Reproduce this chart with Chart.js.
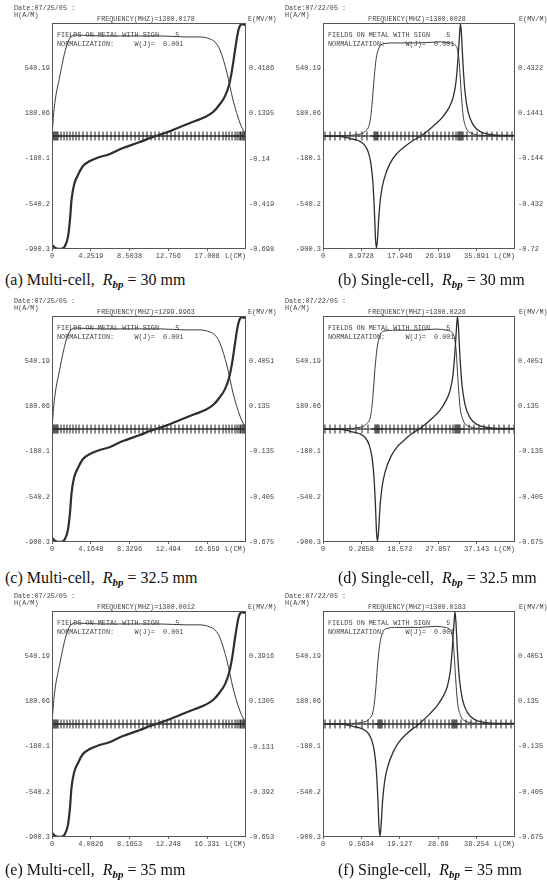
<!DOCTYPE html>
<html>
<head>
<meta charset="utf-8">
<title>Fields on metal</title>
<script src="https://cdn.jsdelivr.net/npm/chart.js@4.4.0/dist/chart.umd.min.js"></script>
<style>
    html, body { margin: 0; padding: 0; background: #fff; }
    body { width: 547px; height: 884px; position: relative; overflow: hidden; }
    .panel { position: absolute; width: 276px; height: 261px; }
    .panel canvas { position: absolute; left: 0; top: 0; }
    .plot-text {
        position: absolute;
        font-family: 'Liberation Mono', 'DejaVu Sans Mono', monospace;
        font-size: 6.8px;
        line-height: 8px;
        color: #444;
        white-space: pre;
    }
    .caption {
        position: absolute;
        font-family: 'Liberation Serif', 'DejaVu Serif', serif;
        font-size: 16px;
        line-height: 17px;
        color: #111;
        white-space: pre;
    }
    .caption sub { font-size: 11px; font-style: italic; font-weight: bold; vertical-align: -3px; }
</style>
</head>
<body>
<script>
// Left axis H(A/M), same in every plot
const hTicks = [-900.3, -540.2, -180.1, 180.06, 540.19];

// L(CM) axis ticks per plot
const xTicksA = [0, 4.2519, 8.5038, 12.756, 17.008];
const xTicksB = [0, 8.9728, 17.946, 26.919, 35.891];
const xTicksC = [0, 4.1648, 8.3296, 12.494, 16.659];
const xTicksD = [0, 9.2858, 18.572, 27.857, 37.143];
const xTicksE = [0, 4.0826, 8.1653, 12.248, 16.331];
const xTicksF = [0, 9.5634, 19.127, 28.69, 38.254];

// Right axis E(MV/M) ticks per plot
const eTicksA = [-0.698, -0.419, -0.14, 0.1395, 0.4186];
const eTicksB = [-0.72, -0.432, -0.144, 0.1441, 0.4322];
const eTicksC = [-0.675, -0.405, -0.135, 0.135, 0.4051];
const eTicksD = [-0.675, -0.405, -0.135, 0.135, 0.4051];
const eTicksE = [-0.653, -0.392, -0.131, 0.1305, 0.3916];
const eTicksF = [-0.675, -0.405, -0.135, 0.135, 0.4051];

// H field along the metal, [L, H]
const hFieldA = [[0,-868],[0.44,-895],[0.99,-900],[1.42,-876],[1.75,-804],[1.97,-669],[2.14,-509],[2.41,-390],[2.85,-310],[3.40,-239],[4.16,-199],[4.93,-175],[6.36,-143],[7.78,-96],[9.64,-48],[10.74,-16],[12.38,24],[14.03,72],[15.67,119],[16.77,151],[17.65,191],[18.41,255],[18.96,318],[19.40,406],[19.73,525],[20.06,685],[20.28,788],[20.49,860],[20.82,892],[21.15,884]];
const hFieldC = [[0,-868],[0.43,-895],[0.97,-900],[1.39,-876],[1.71,-804],[1.93,-669],[2.10,-509],[2.36,-390],[2.79,-310],[3.33,-239],[4.07,-199],[4.83,-175],[6.23,-143],[7.62,-96],[9.44,-48],[10.52,-16],[12.13,24],[13.74,72],[15.35,119],[16.43,151],[17.29,191],[18.03,255],[18.57,318],[19.00,406],[19.33,525],[19.65,685],[19.86,788],[20.07,860],[20.39,892],[20.72,884]];
const hFieldE = [[0,-868],[0.42,-895],[0.95,-900],[1.36,-876],[1.68,-804],[1.89,-669],[2.05,-509],[2.31,-390],[2.74,-310],[3.26,-239],[3.99,-199],[4.73,-175],[6.11,-143],[7.47,-96],[9.26,-48],[10.31,-16],[11.89,24],[13.47,72],[15.05,119],[16.10,151],[16.95,191],[17.68,255],[18.21,318],[18.63,406],[18.95,525],[19.26,685],[19.47,788],[19.67,860],[19.99,892],[20.31,884]];
const hFieldB = [[0,0],[3.97,-2],[6.31,-20],[8.18,-36],[9.58,-67],[10.52,-123],[11.22,-226],[11.69,-385],[12.04,-622],[12.27,-821],[12.50,-892],[12.74,-821],[13.09,-622],[13.55,-464],[14.26,-345],[15.66,-218],[17.29,-139],[19.16,-83],[21.03,-36],[22.67,-4],[24.30,36],[26.17,91],[28.04,155],[29.45,226],[30.38,305],[31.08,432],[31.55,622],[31.90,805],[32.13,895],[32.37,805],[32.72,567],[33.18,353],[33.89,194],[35.06,91],[36.69,36],[39.03,12],[42.53,4],[44.86,4]];
const hFieldD = [[0,0],[4.35,-2],[6.77,-20],[8.71,-36],[10.16,-67],[11.12,-123],[11.85,-226],[12.33,-385],[12.70,-622],[12.94,-821],[13.18,-892],[13.42,-821],[13.78,-622],[14.27,-464],[14.99,-345],[16.44,-218],[18.02,-139],[19.83,-83],[21.52,-36],[23.09,-4],[24.67,36],[26.60,91],[28.41,155],[29.74,226],[30.71,305],[31.44,432],[31.92,622],[32.28,805],[32.52,895],[32.77,805],[33.13,567],[33.61,353],[34.34,194],[35.55,91],[37.24,36],[39.66,12],[43.53,4],[46.43,4]];
const hFieldF = [[0,0],[5.11,-2],[7.60,-20],[9.59,-36],[11.08,-67],[12.08,-123],[12.83,-226],[13.32,-385],[13.70,-622],[13.95,-821],[14.20,-892],[14.44,-821],[14.82,-622],[15.32,-464],[16.06,-345],[17.56,-218],[19.05,-139],[20.67,-83],[22.41,-36],[23.78,-4],[25.15,36],[26.90,91],[28.64,155],[30.01,226],[31.01,305],[31.75,432],[32.25,622],[32.63,805],[32.87,895],[33.12,805],[33.50,567],[34.00,353],[34.74,194],[35.99,91],[37.73,36],[40.22,12],[44.08,4],[47.82,4]];

// E field along the metal, [L, E]
const eFieldA = [[0,0],[0.22,0.161],[0.88,0.377],[1.53,0.544],[1.97,0.605],[2.52,0.624],[5.26,0.618],[8.55,0.618],[11.84,0.618],[14.58,0.612],[16.22,0.612],[17.32,0.599],[17.87,0.580],[18.41,0.531],[19.18,0.389],[19.84,0.222],[20.60,0.080],[21.26,0]];
const eFieldC = [[0,0],[0.22,0.156],[0.86,0.365],[1.50,0.526],[1.93,0.585],[2.47,0.603],[5.15,0.598],[8.37,0.598],[11.60,0.598],[14.28,0.592],[15.88,0.592],[16.96,0.579],[17.50,0.561],[18.03,0.513],[18.79,0.376],[19.43,0.215],[20.18,0.077],[20.82,0]];
const eFieldE = [[0,0],[0.21,0.151],[0.84,0.353],[1.47,0.509],[1.89,0.566],[2.42,0.584],[5.05,0.578],[8.21,0.578],[11.37,0.578],[14.00,0.573],[15.57,0.573],[16.63,0.560],[17.16,0.543],[17.68,0.497],[18.42,0.364],[19.05,0.208],[19.78,0.075],[20.41,0]];
const eFieldB = [[0,0],[5.14,0.003],[8.18,0.010],[9.81,0.029],[10.98,0.092],[11.45,0.200],[11.92,0.358],[12.38,0.485],[13.09,0.561],[14.02,0.587],[16.83,0.593],[22.67,0.593],[27.34,0.600],[29.68,0.593],[31.08,0.574],[31.78,0.485],[32.25,0.295],[32.72,0.136],[33.42,0.054],[34.82,0.016],[37.86,0.003],[44.86,0]];
const eFieldD = [[0,0],[5.56,0.003],[8.71,0.009],[10.40,0.028],[11.61,0.090],[12.09,0.200],[12.57,0.360],[13.06,0.480],[13.78,0.560],[14.75,0.585],[17.53,0.590],[23.09,0.590],[27.33,0.597],[29.99,0.590],[31.44,0.570],[32.16,0.480],[32.65,0.290],[33.13,0.135],[33.86,0.054],[35.31,0.016],[38.45,0.003],[46.43,0]];
const eFieldF = [[0,0],[6.35,0.003],[9.59,0.009],[11.33,0.027],[12.58,0.088],[13.07,0.190],[13.57,0.345],[14.07,0.465],[14.82,0.545],[15.81,0.570],[18.43,0.577],[23.78,0.577],[28.02,0.583],[30.39,0.577],[31.75,0.560],[32.50,0.470],[33.00,0.285],[33.50,0.130],[34.24,0.052],[35.74,0.015],[38.98,0.003],[47.82,0]];

// Mesh points on the boundary (L positions)
const meshA = [0,0.11,0.22,0.33,0.44,0.55,0.66,0.99,1.32,1.64,1.97,2.30,2.63,2.96,3.40,3.84,4.27,4.71,5.15,5.59,6.03,6.47,6.90,7.34,7.78,8.22,8.66,9.10,9.54,9.97,10.41,10.85,11.29,11.73,12.17,12.60,13.04,13.48,13.92,14.36,14.80,15.23,15.67,16.11,16.55,16.99,17.43,17.86,18.30,18.74,19.07,19.40,19.73,20.06,20.28,20.50,20.66,20.82,20.93,21.04,21.15,21.26];
const meshC = [0,0.11,0.21,0.32,0.43,0.54,0.64,0.97,1.29,1.61,1.93,2.25,2.58,2.90,3.33,3.76,4.19,4.62,5.05,5.47,5.90,6.33,6.76,7.19,7.62,8.05,8.48,8.91,9.34,9.77,10.20,10.63,11.06,11.49,11.91,12.34,12.77,13.20,13.63,14.06,14.49,14.92,15.35,15.78,16.21,16.64,17.07,17.50,17.93,18.36,18.68,19.00,19.32,19.64,19.86,20.07,20.23,20.39,20.50,20.61,20.72,20.82];
const meshE = [0,0.11,0.21,0.32,0.42,0.53,0.63,0.95,1.26,1.58,1.89,2.21,2.53,2.84,3.26,3.68,4.10,4.52,4.95,5.37,5.79,6.21,6.63,7.05,7.47,7.89,8.31,8.73,9.15,9.58,10.00,10.42,10.84,11.26,11.68,12.10,12.52,12.94,13.36,13.78,14.20,14.62,15.05,15.47,15.89,16.31,16.73,17.15,17.57,17.99,18.31,18.62,18.94,19.26,19.47,19.68,19.84,19.99,20.10,20.20,20.31,20.41];
const meshB = [0.47,1.64,2.80,3.97,5.14,6.31,7.71,9.11,10.28,11.92,12.15,12.38,12.62,12.85,13.55,14.49,15.42,16.36,17.29,18.23,19.16,20.10,21.03,21.97,22.90,23.83,24.77,25.70,26.64,27.57,28.51,29.45,30.38,31.08,31.55,31.78,32.01,32.25,32.48,32.71,33.65,34.82,35.99,37.15,38.32,39.49,40.66,41.83,43.00,44.16];
const meshD = [0.48,1.69,2.90,4.11,5.32,6.53,7.98,9.43,10.88,12.57,12.82,13.06,13.30,13.54,14.27,15.23,16.20,17.17,18.14,19.10,20.07,21.04,22.01,22.97,23.94,24.91,25.87,26.84,27.81,28.78,29.74,30.71,31.44,31.92,32.16,32.40,32.65,32.89,33.13,34.10,35.31,36.51,37.72,38.93,40.14,41.35,42.56,43.77,44.98,46.19];
const meshF = [0.50,1.74,2.99,4.23,5.48,6.72,8.22,9.71,11.21,12.45,13.70,13.95,14.20,14.44,14.69,15.44,16.44,17.43,18.43,19.43,20.42,21.42,22.41,23.41,24.41,25.40,26.40,27.40,28.39,29.39,30.38,31.38,32.13,32.38,32.63,32.87,33.12,33.37,34.37,35.61,36.86,38.10,39.35,40.60,41.84,43.09,44.33,45.58,46.82];

// Plot layout: two columns, three rows
const panels = [
    { key: 'a', left: 0,   top: 0,   rightWidth: 30, date: '07/25/05', freq: '1300.0178', xTicks: xTicksA, xMax: 21.2595, eTicks: eTicksA, eMax: 0.698, h: hFieldA, e: eFieldA, mesh: meshA, multi: true,  caption: 'Multi-cell',  rbp: '30' },
    { key: 'b', left: 271, top: 0,   rightWidth: 32, date: '07/22/05', freq: '1300.0028', xTicks: xTicksB, xMax: 44.864,  eTicks: eTicksB, eMax: 0.72,  h: hFieldB, e: eFieldB, mesh: meshB, multi: false, caption: 'Single-cell', rbp: '30' },
    { key: 'c', left: 0,   top: 293, rightWidth: 30, date: '07/25/05', freq: '1299.9963', xTicks: xTicksC, xMax: 20.824,  eTicks: eTicksC, eMax: 0.675, h: hFieldC, e: eFieldC, mesh: meshC, multi: true,  caption: 'Multi-cell',  rbp: '32.5' },
    { key: 'd', left: 271, top: 293, rightWidth: 32, date: '07/22/05', freq: '1300.0226', xTicks: xTicksD, xMax: 46.429,  eTicks: eTicksD, eMax: 0.675, h: hFieldD, e: eFieldD, mesh: meshD, multi: false, caption: 'Single-cell', rbp: '32.5' },
    { key: 'e', left: 0,   top: 588, rightWidth: 30, date: '07/25/05', freq: '1300.0012', xTicks: xTicksE, xMax: 20.413,  eTicks: eTicksE, eMax: 0.653, h: hFieldE, e: eFieldE, mesh: meshE, multi: true,  caption: 'Multi-cell',  rbp: '35' },
    { key: 'f', left: 271, top: 588, rightWidth: 32, date: '07/22/05', freq: '1300.0183', xTicks: xTicksF, xMax: 47.817,  eTicks: eTicksF, eMax: 0.675, h: hFieldF, e: eFieldF, mesh: meshF, multi: false, caption: 'Single-cell', rbp: '35' }
];

const captionTops = [271, 569, 861];

const tickFont = { family: "'Liberation Mono', 'DejaVu Sans Mono', monospace", size: 7 };
const labelColor = '#444';

function toPoints(pairs) {
    return pairs.map(([x, y]) => ({ x: x, y: y }));
}

// Plotter output always has a closed frame
const framePlugin = {
    id: 'frame',
    afterDraw(chart) {
        const { ctx, chartArea: a } = chart;
        ctx.save();
        ctx.strokeStyle = '#555';
        ctx.lineWidth = 1;
        ctx.strokeRect(Math.round(a.left) + 0.5, Math.round(a.top) + 0.5,
            Math.round(a.right - a.left) - 1, Math.round(a.bottom - a.top) - 1);
        ctx.restore();
    }
};

function addText(parent, text, left, top, extra) {
    const el = document.createElement('div');
    el.className = 'plot-text';
    el.textContent = text;
    el.style.left = left + 'px';
    el.style.top = top + 'px';
    if (extra) Object.assign(el.style, extra);
    parent.appendChild(el);
}

function createFieldChart(canvas, p) {
    return new Chart(canvas, {
        type: 'line',
        data: {
            datasets: [
                {
                    label: 'H',
                    data: toPoints(p.h),
                    yAxisID: 'y',
                    borderColor: '#2e2e2e',
                    borderWidth: p.multi ? 2.2 : 1.3,
                    pointRadius: 0,
                    cubicInterpolationMode: 'monotone'
                },
                {
                    label: 'E',
                    data: toPoints(p.e),
                    yAxisID: 'y1',
                    borderColor: '#3a3a3a',
                    borderWidth: 1,
                    pointRadius: 0,
                    cubicInterpolationMode: 'monotone'
                },
                {
                    label: 'mesh',
                    data: p.mesh.map(x => ({ x: x, y: 0 })),
                    yAxisID: 'y',
                    showLine: false,
                    pointStyle: 'cross',
                    pointRadius: 4.5,
                    pointBorderWidth: 1.1,
                    pointBorderColor: '#333',
                    pointBackgroundColor: '#333'
                }
            ]
        },
        options: {
            responsive: false,
            animation: false,
            devicePixelRatio: 1,
            layout: { padding: { top: 23, left: 0, right: 0, bottom: 0 }, autoPadding: false },
            plugins: { legend: { display: false }, tooltip: { enabled: false } },
            scales: {
                x: {
                    type: 'linear',
                    min: 0,
                    max: p.xMax,
                    afterFit: s => { s.height = 12; },
                    afterBuildTicks: s => { s.ticks = p.xTicks.map(v => ({ value: v })); },
                    ticks: { callback: v => String(v), font: tickFont, color: labelColor, padding: 1, maxRotation: 0, autoSkip: false },
                    grid: { drawOnChartArea: false, tickLength: 2, color: '#666' },
                    border: { display: false },
                    title: { display: true, text: 'L(CM)', align: 'end', font: tickFont, color: labelColor, padding: { top: 0, bottom: 1 } }
                },
                y: {
                    position: 'left',
                    min: -900.3,
                    max: 900.3,
                    afterFit: s => { s.width = 52; },
                    afterBuildTicks: s => { s.ticks = hTicks.map(v => ({ value: v })); },
                    ticks: { callback: v => String(v), font: tickFont, color: labelColor, padding: 2, autoSkip: false },
                    grid: { display: false, drawTicks: false },
                    border: { display: false }
                },
                y1: {
                    position: 'right',
                    min: -p.eMax,
                    max: p.eMax,
                    afterFit: s => { s.width = p.rightWidth; },
                    afterBuildTicks: s => { s.ticks = p.eTicks.map(v => ({ value: v })); },
                    ticks: { callback: v => String(v), font: tickFont, color: labelColor, padding: 3, autoSkip: false },
                    grid: { display: false, drawTicks: false },
                    border: { display: false }
                }
            }
        },
        plugins: [framePlugin]
    });
}

function buildPanel(p, index) {
    const box = document.createElement('div');
    box.className = 'panel';
    box.style.left = p.left + 'px';
    box.style.top = p.top + 'px';
    document.body.appendChild(box);

    const canvas = document.createElement('canvas');
    canvas.width = 276;
    canvas.height = 261;
    box.appendChild(canvas);

    addText(box, 'Date:' + p.date + ' :', 14, 4);
    addText(box, 'H(A/M)', 14, 11);
    addText(box, 'FREQUENCY(MHZ)=' + p.freq, 46, 15, { width: '200px', textAlign: 'center' });
    addText(box, 'E(MV/M)', 248, 15);
    addText(box, 'FIELDS ON METAL WITH SIGN    5', 57, 31);
    addText(box, 'NORMALIZATION:     W(J)=  0.001', 57, 40);

    createFieldChart(canvas, p);

    const cap = document.createElement('div');
    cap.className = 'caption';
    cap.style.left = (p.left === 0 ? 5 : 338) + 'px';
    cap.style.top = captionTops[Math.floor(index / 2)] + 'px';
    cap.innerHTML = '(' + p.key + ') ' + p.caption + ',\u00a0 <i>R</i><sub>bp</sub> = ' + p.rbp + ' mm';
    document.body.appendChild(cap);
}

document.addEventListener('DOMContentLoaded', function() {
    panels.forEach(buildPanel);
});
</script>
</body>
</html>
